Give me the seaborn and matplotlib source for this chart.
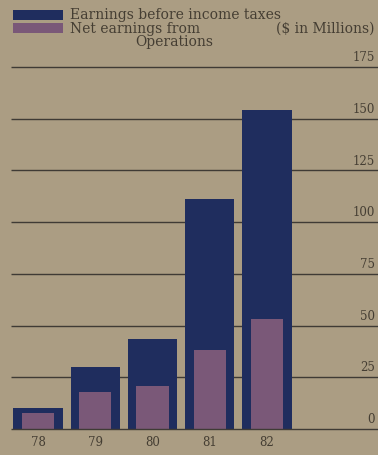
import matplotlib
matplotlib.use("Agg")
import matplotlib.pyplot as plt
import matplotlib.patches as mpatches
import seaborn as sns
import pandas as pd

years = ["78", "79", "80", "81", "82"]
pretax = [10, 30, 43.5, 111, 154]
net_ops = [7.5, 18, 21, 38, 53]
yticks = [0, 25, 50, 75, 100, 125, 150, 175]

BG = "#ab9d83"
NAVY = "#1f2d5e"
PURPLE = "#7a5878"
TXT = "#453e33"
LINE = "#3f3b35"

sns.set_theme(style="white")
plt.rcParams["font.family"] = ["DejaVu Serif"]

df = pd.DataFrame({"year": years, "pretax": pretax, "net": net_ops})

fig = plt.figure(figsize=(3.78, 4.55), dpi=100)
fig.patch.set_facecolor(BG)
W, H = 378, 455
y0_px, y175_px = 429, 67
ppu = (y0_px - y175_px) / 175.0
ymax = 185
bottom = (H - y0_px) / H
height = ymax * ppu / H
ax = fig.add_axes([0, bottom, 1, height])
ax.set_facecolor(BG)

c0, step = 38, 57.25
xl = (0 - c0) / step
xr = (W - c0) / step

sns.barplot(data=df, x="year", y="pretax", order=years, color=NAVY,
            width=0.86, saturation=1, ax=ax, zorder=3, linewidth=0,
            edgecolor="none")
sns.barplot(data=df, x="year", y="net", order=years, color=PURPLE,
            width=0.56, saturation=1, ax=ax, zorder=4, linewidth=0,
            edgecolor="none")

ax.set_xlim(xl, xr)
ax.set_ylim(0, ymax)
for s in ax.spines.values():
    s.set_visible(False)

gx0 = (11 - c0) / step
for v in yticks:
    ax.hlines(v, gx0, xr, color=LINE, lw=1.0, zorder=2 if v else 5, clip_on=False)
    ax.text((375 - c0) / step, v + 4.5, str(v), ha="right", va="center",
            fontsize=8.5, color=TXT)

ax.set_yticks([])
ax.set_xlabel("")
ax.set_ylabel("")
ax.tick_params(axis="x", length=0, pad=5, labelsize=8.5, labelcolor=TXT)

def px(x, y):
    return x / W, 1 - y / H

for (y1, y2, col) in [(10, 20, NAVY), (23, 33, PURPLE)]:
    fx, fy = px(13, y2)
    fig.patches.append(mpatches.Rectangle((fx, fy), 50 / W, (y2 - y1) / H,
                                          transform=fig.transFigure,
                                          facecolor=col, edgecolor="none"))
fig.text(*px(70, 15), "Earnings before income taxes", ha="left", va="center",
         fontsize=10, color=TXT)
fig.text(*px(70, 29), "Net earnings from", ha="left", va="center",
         fontsize=10, color=TXT)
fig.text(*px(174, 42), "Operations", ha="center", va="center",
         fontsize=10, color=TXT)
fig.text(*px(374, 29), "($ in Millions)", ha="right", va="center",
         fontsize=10, color=TXT)

fig.savefig("out.png", dpi=100, facecolor=BG)
